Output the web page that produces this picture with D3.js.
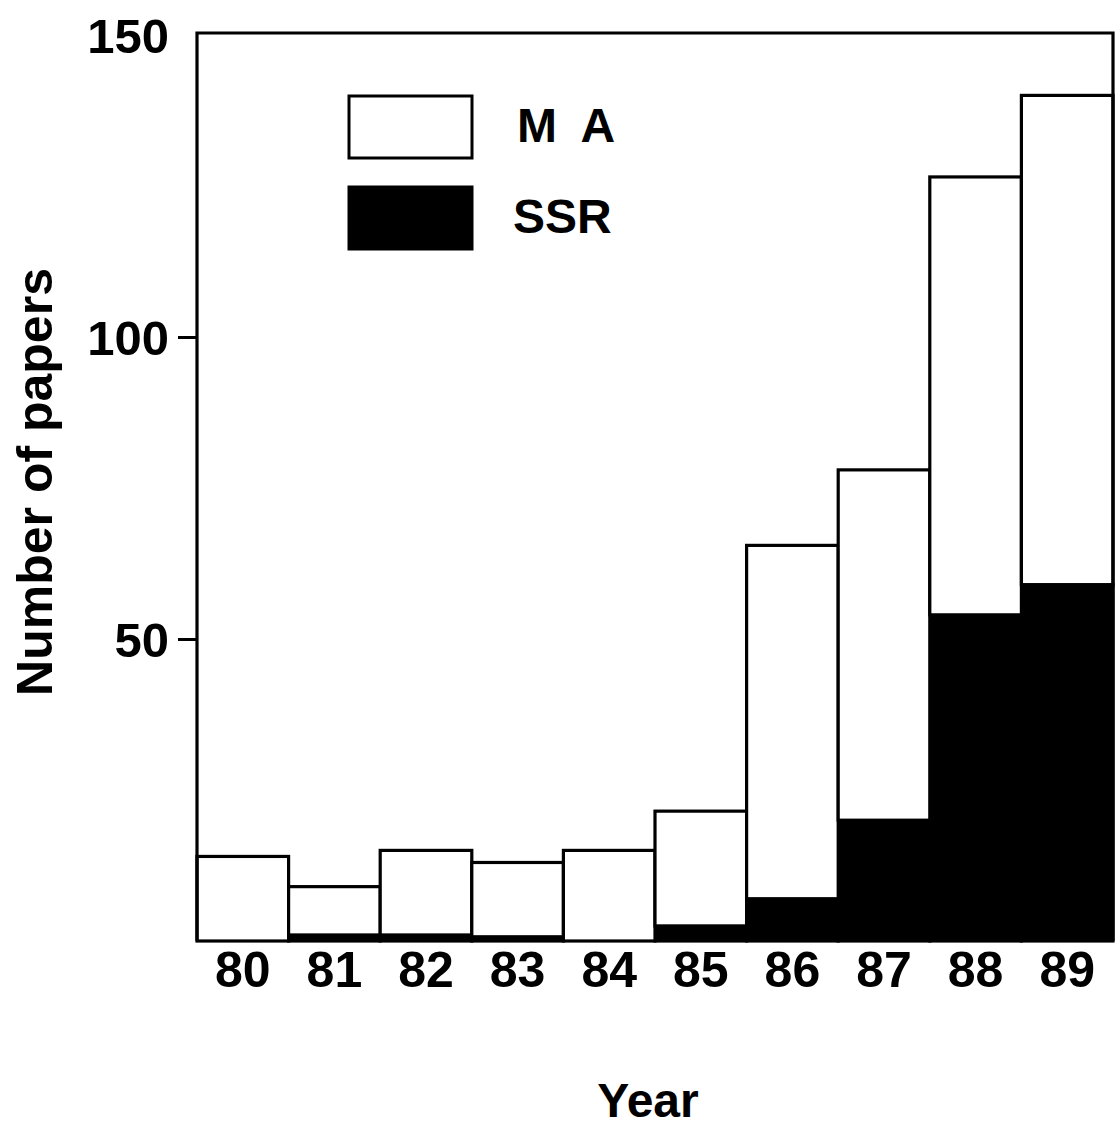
<!DOCTYPE html>
<html>
<head>
<meta charset="utf-8">
<script src="https://cdn.jsdelivr.net/npm/d3@7"></script>
<style>
  html, body { margin: 0; padding: 0; background: #fff; }
  svg text { font-family: "Liberation Sans", Arial, Helvetica, sans-serif; font-weight: bold; fill: #000; }
</style>
</head>
<body>
<svg id="chart" width="1115" height="1129"></svg>
<script>
const years = ["80", "81", "82", "83", "84", "85", "86", "87", "88", "89"];
const ssr   = [0, 1, 1, 0.7, 0, 2.5, 7, 20, 54, 59];
const ma    = [14, 8, 14, 12.3, 15, 19, 58.5, 58, 72.5, 81];
const yTicks = [50, 100, 150];
const seriesNames = ["SSR", "MA"];
const legendLabels = ["M A", "SSR"];

const svg = d3.select("#chart");
const plotLeft = 197, plotRight = 1113, plotTop = 35, plotBottom = 941;

const x = d3.scaleBand().domain(years).range([plotLeft, plotRight]).padding(0);
const y = d3.scaleLinear().domain([0, 150]).range([plotBottom, plotTop]);

const rows = years.map((yr, i) => ({ year: yr, SSR: ssr[i], MA: ma[i] }));
const stacked = d3.stack().keys(seriesNames)(rows);
const fills = { SSR: "#000", MA: "#fff" };

// bars
stacked.forEach(layer => {
  svg.append("g").selectAll("rect").data(layer).join("rect")
    .attr("x", d => x(d.data.year))
    .attr("y", d => y(d[1]))
    .attr("width", x.bandwidth())
    .attr("height", d => Math.max(0, y(d[0]) - y(d[1])))
    .attr("fill", fills[layer.key])
    .attr("stroke", "#000")
    .attr("stroke-width", 3.2);
});

// frame (top, left, right)
svg.append("path")
  .attr("d", `M${plotLeft},${plotBottom} V${plotTop - 2} H${plotRight} V${plotBottom}`)
  .attr("fill", "none").attr("stroke", "#000").attr("stroke-width", 3.2);

// y axis
const yAxis = d3.axisLeft(y).tickValues(yTicks).tickSize(19).tickPadding(9).tickFormat(d3.format("d"));
const gy = svg.append("g").attr("transform", `translate(${plotLeft},0)`).call(yAxis);
gy.select(".domain").remove();
gy.selectAll(".tick line").attr("stroke", "#000").attr("stroke-width", 3)
  .filter(d => d === 150).remove();
gy.selectAll(".tick text")
  .style("font-size", "49px").style("font-family", "'Liberation Sans', Arial, sans-serif")
  .style("font-weight", "bold").attr("fill", "#000").attr("dy", "0.36em");

// x axis labels
const xAxis = d3.axisBottom(x).tickSize(0).tickPadding(10);
const gx = svg.append("g").attr("transform", `translate(0,${plotBottom})`).call(xAxis);
gx.select(".domain").remove();
gx.selectAll(".tick text")
  .style("font-size", "50px").style("font-family", "'Liberation Sans', Arial, sans-serif")
  .style("font-weight", "bold").attr("fill", "#000");

// axis titles
svg.append("text")
  .attr("transform", "translate(52,482) rotate(-90)")
  .attr("text-anchor", "middle")
  .style("font-size", "50px")
  .text("Number of papers");

svg.append("text")
  .attr("x", 648).attr("y", 1117)
  .attr("text-anchor", "middle")
  .style("font-size", "48px")
  .text("Year");

// legend
const legend = svg.append("g");
const legendFills = ["#fff", "#000"];
const legendY = [96, 187];
legendLabels.forEach((lab, i) => {
  legend.append("rect")
    .attr("x", 349).attr("y", legendY[i])
    .attr("width", 123).attr("height", 62)
    .attr("fill", legendFills[i]).attr("stroke", "#000").attr("stroke-width", 3);
  legend.append("text")
    .attr("x", i === 0 ? 517 : 513).attr("y", legendY[i] + 46)
    .style("font-size", "48px")
    .style("letter-spacing", i === 0 ? "6px" : "0px")
    .text(lab);
});
</script>
</body>
</html>
